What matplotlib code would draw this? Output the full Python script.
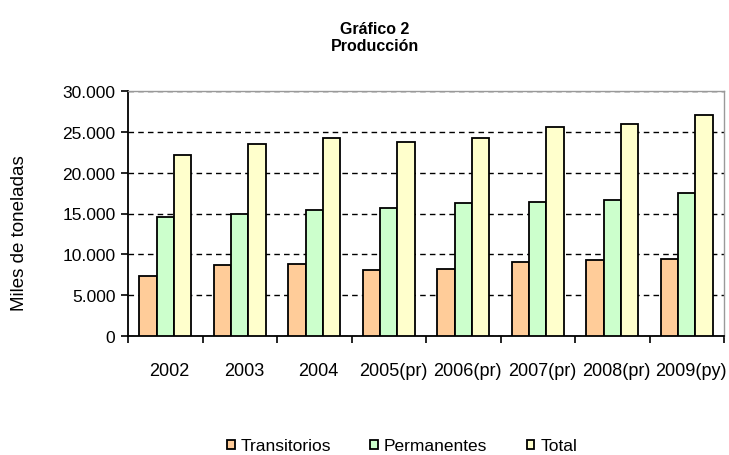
import numpy as np
import matplotlib.pyplot as plt
from matplotlib.ticker import FuncFormatter, FixedLocator

plt.rcParams['font.family'] = ['Liberation Sans', 'DejaVu Sans']

years = ['2002', '2003', '2004', '2005(pr)', '2006(pr)', '2007(pr)', '2008(pr)', '2009(py)']
transitorios = [7350, 8650, 8850, 8050, 8250, 9050, 9250, 9450]
permanentes = [14550, 14980, 15400, 15650, 16250, 16450, 16650, 17500]
total = [22150, 23450, 24300, 23700, 24300, 25600, 26000, 27050]

series = [('Transitorios', transitorios, '#FFCC99'),
          ('Permanentes', permanentes, '#CCFFCC'),
          ('Total', total, '#FFFFCC')]

fs = 12.5

fig = plt.figure(figsize=(7.29, 4.56), dpi=100)
ax = fig.add_axes([128 / 729, 1 - 337 / 456, (724 - 128) / 729, (337 - 92) / 456])

x = np.arange(len(years))
w = 0.232
for i, (name, vals, col) in enumerate(series):
    ax.bar(x + (i - 1) * w, vals, width=w, color=col, edgecolor='black',
           linewidth=1.3, label=name, zorder=3)

ax.set_xlim(-0.5, len(years) - 0.5)
ax.set_ylim(0, 30000)
ax.set_yticks(np.arange(0, 30001, 5000))
ax.yaxis.set_major_formatter(FuncFormatter(lambda v, p: f'{int(v):,}'.replace(',', '.')))
ax.yaxis.grid(True, linestyle=(0, (4, 3)), color='black', linewidth=1.0, zorder=1)

ax.set_xticks(x + 0.06)
ax.set_xticklabels(years)
ax.xaxis.set_minor_locator(FixedLocator(np.arange(-0.5, len(years), 1.0)))
ax.tick_params(axis='x', which='major', length=0, pad=19, labelsize=13)
ax.tick_params(axis='x', which='minor', length=5, width=1.2, direction='out')
ax.tick_params(axis='y', length=5, width=1.2, labelsize=fs, pad=4)

for s in ['left', 'bottom']:
    ax.spines[s].set_color('black')
    ax.spines[s].set_linewidth(1.3)
for s in ['top', 'right']:
    ax.spines[s].set_color('#999999')
    ax.spines[s].set_linewidth(1.0)

ax.set_ylabel('Miles de toneladas', fontsize=13.5)
ax.yaxis.set_label_coords(-0.167, 0.424)

fig.text(375 / 729, 1 - 38 / 456, 'Gráfico 2\nProducción', ha='center', va='center',
         fontsize=11.5, fontweight='bold', linespacing=1.2)

fig.legend(loc='center', bbox_to_anchor=(402 / 729, 1 - 447 / 456), ncol=3, frameon=False,
           fontsize=fs, handlelength=0.45, handleheight=0.45, handletextpad=0.35,
           columnspacing=2.25)

fig.savefig('out.png', dpi=100)
